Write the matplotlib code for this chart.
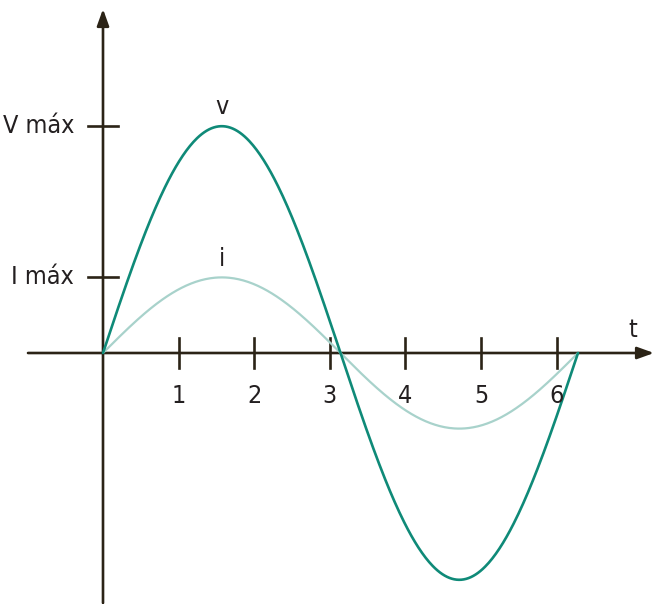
import numpy as np
import matplotlib
matplotlib.use('Agg')
import matplotlib.pyplot as plt

# ── chart values ────────────────────────────────────────────────────────────
V_MAX = 3.0          # amplitude of v (in t-units, same scale as axis)
I_MAX = 1.0          # amplitude of i
T_END = 2 * np.pi    # one full period
TICKS = [1, 2, 3, 4, 5, 6]
Y_LABELS = ['V máx', 'I máx']
Y_LEVELS = [V_MAX, I_MAX]

# ── style ───────────────────────────────────────────────────────────────────
AXIS_C = '#2b2316'
V_C = '#0f8a78'
I_C = '#a8d2cb'
TXT_C = '#231f20'
FONT = ['DejaVu Sans']

S = 75.6                         # px per unit
W, H = 653, 604
OX, OY = 103, 353                # origin in pixels

fig = plt.figure(figsize=(W / 100, H / 100), dpi=100)
ax = fig.add_axes([0, 0, 1, 1])
ax.set_xlim(-OX / S, (W - OX) / S)
ax.set_ylim(-(H - OY) / S, OY / S)
ax.axis('off')

t = np.linspace(0, T_END, 400)
ax.plot(t, I_MAX * np.sin(t), color=I_C, lw=1.6, solid_capstyle='round', zorder=2)
ax.plot(t, V_MAX * np.sin(t), color=V_C, lw=1.9, solid_capstyle='round', zorder=3)

# axes with arrows
arw = dict(arrowstyle='-|>,head_length=1.0,head_width=0.36', color=AXIS_C,
           lw=1.9, shrinkA=0, shrinkB=0)
ax.annotate('', xy=(551 / S, 0), xytext=(-75 / S, 0), arrowprops=arw,
            annotation_clip=False, zorder=1)
ax.annotate('', xy=(0, 344 / S), xytext=(0, -250 / S), arrowprops=arw,
            annotation_clip=False, zorder=1)

tl = 15 / S
txt = dict(fontsize=18, family=FONT, fontstretch='condensed', color=TXT_C)
for k in TICKS:
    ax.plot([k, k], [-tl, tl], color=AXIS_C, lw=1.9, zorder=1)
    ax.text(k, -43 / S, str(k), ha='center', va='center', **txt)

for lab, lev in zip(Y_LABELS, Y_LEVELS):
    ax.plot([-tl, tl], [lev, lev], color=AXIS_C, lw=1.9, zorder=1)
    ax.text(-29 / S, lev, lab, ha='right', va='center', **txt)

ax.text(np.pi / 2, V_MAX + 19 / S, 'v', ha='center', va='center', **txt)
ax.text(np.pi / 2, I_MAX + 18 / S, 'i', ha='center', va='center', **txt)
ax.text(530 / S, 23 / S, 't', ha='center', va='center', **txt)

fig.savefig('out.png', dpi=100)
